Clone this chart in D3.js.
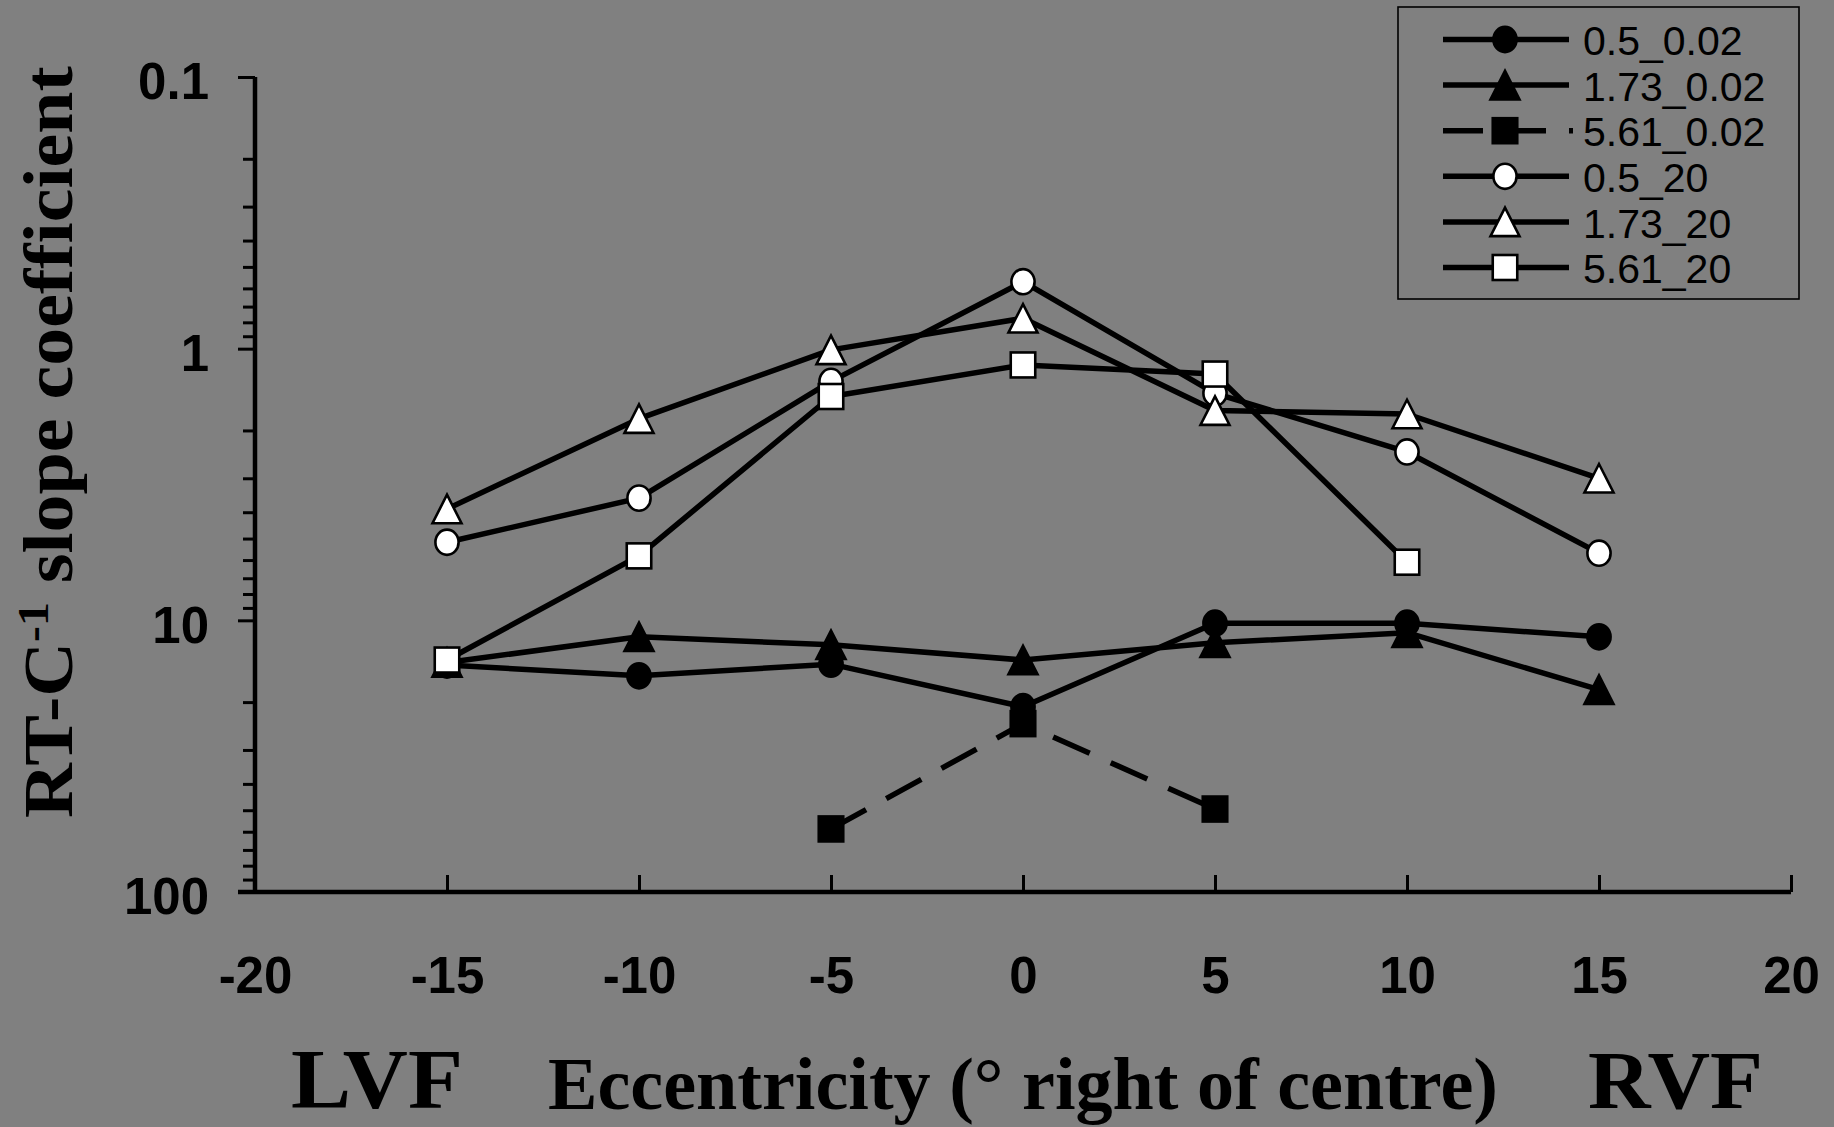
<!DOCTYPE html>
<html>
<head>
<meta charset="utf-8">
<script src="https://cdn.jsdelivr.net/npm/d3@7"></script>
<style>
  html, body { margin: 0; padding: 0; background: #808080; }
  svg { display: block; }
</style>
</head>
<body>
<svg id="chart" width="1834" height="1127"></svg>
<script>
// Eccentricity positions (degrees right of centre)
const eccentricity = [-15, -10, -5, 0, 5, 10, 15];

// Series names (spatial frequency _ contrast condition)
const seriesNames = ["0.5_0.02", "1.73_0.02", "5.61_0.02", "0.5_20", "1.73_20", "5.61_20"];

// RT-C^-1 slope coefficients per series, one per eccentricity (null = no data)
const s_05_002  = [14.6, 16.0, 14.5, 20.8, 10.25, 10.25, 11.5];
const s_173_002 = [14.3, 11.5, 12.3, 14.0, 12.1, 11.1, 18.0];
const s_561_002 = [null, null, 58.6, 24.0, 49.5, null, null];
const s_05_20   = [5.16, 3.55, 1.32, 0.567, 1.46, 2.40, 5.66];
const s_173_20  = [3.89, 1.81, 1.01, 0.773, 1.69, 1.74, 3.00];
const s_561_20  = [14.0, 5.79, 1.50, 1.148, 1.24, 6.11, null];

// Axis ticks and labels
const xTicks = [-20, -15, -10, -5, 0, 5, 10, 15, 20];
const yMajorTicks = [0.1, 1, 10, 100];
const yMajorLabels = ["0.1", "1", "10", "100"];
const yMinorTicks = [0.2,0.3,0.4,0.5,0.6,0.7,0.8,0.9, 2,3,4,5,6,7,8,9, 20,30,40,50,60,70,80,90];

const seriesValues = [s_05_002, s_173_002, s_561_002, s_05_20, s_173_20, s_561_20];
const seriesStyle = [
  { shape: "circle",   fill: "#000", dash: null },
  { shape: "triangle", fill: "#000", dash: null },
  { shape: "square",   fill: "#000", dash: "40,23" },
  { shape: "circle",   fill: "#fff", dash: null },
  { shape: "triangle", fill: "#fff", dash: null },
  { shape: "square",   fill: "#fff", dash: null }
];

const SANS = "'Liberation Sans', Arial, sans-serif";
const SERIF = "'Liberation Serif', 'Times New Roman', serif";

const svg = d3.select("#chart");

const x = d3.scaleLinear().domain([-20, 20]).range([255, 1791]);
const y = d3.scaleLog().domain([0.1, 100]).range([77, 892]);

// ---- Y axis: minor ticks, then major ticks with labels ----
const yAxisX = x(-20);
svg.append("g")
  .attr("transform", `translate(${yAxisX},0)`)
  .call(d3.axisLeft(y).tickValues(yMinorTicks).tickSize(12).tickFormat(""))
  .call(g => g.select(".domain").remove())
  .call(g => g.selectAll(".tick line").attr("stroke", "#000").attr("stroke-width", 3));

svg.append("g")
  .attr("transform", `translate(${yAxisX},0)`)
  .call(d3.axisLeft(y).tickValues(yMajorTicks).tickSize(17).tickSizeOuter(0).tickPadding(29)
        .tickFormat((d, i) => yMajorLabels[i]))
  .call(g => g.select(".domain").attr("stroke", "#000").attr("stroke-width", 4.5)
        .attr("d", `M0,${y(0.1)}V${y(100)}`))
  .call(g => g.selectAll(".tick line").attr("stroke", "#000").attr("stroke-width", 3))
  .call(g => g.selectAll(".tick text")
        .attr("fill", "#000").attr("font-family", SANS).attr("font-weight", "bold")
        .attr("font-size", 51).attr("dy", "0.43em"));

// ---- X axis along the bottom, ticks pointing up ----
svg.append("g")
  .attr("transform", `translate(0,${y(100)})`)
  .call(d3.axisBottom(x).tickValues(xTicks).tickSizeInner(-17).tickSizeOuter(0).tickPadding(65)
        .tickFormat(d3.format("d")))
  .call(g => g.select(".domain").attr("stroke", "#000").attr("stroke-width", 4.5)
        .attr("d", `M${x(-20) - 17},0H${x(20)}`))
  .call(g => g.selectAll(".tick line").attr("stroke", "#000").attr("stroke-width", 3))
  .call(g => g.selectAll(".tick text")
        .attr("fill", "#000").attr("font-family", SANS).attr("font-weight", "bold")
        .attr("font-size", 51).attr("dy", "0.71em")
        .text(d => d < 0 ? "-" + Math.abs(d) : String(d)));

// ---- Marker drawing ----
function drawMarker(sel, shape, fill) {
  if (shape === "circle") {
    sel.append("ellipse").attr("rx", 11.6).attr("ry", 12.6)
      .attr("fill", fill).attr("stroke", "#000").attr("stroke-width", 2.6);
  } else if (shape === "triangle") {
    const w = 29, h = 28.5;
    sel.append("path").attr("d", `M0,${-h/2}L${w/2},${h/2}L${-w/2},${h/2}Z`)
      .attr("fill", fill).attr("stroke", "#000").attr("stroke-width", 2.6).attr("stroke-linejoin", "miter");
  } else {
    const w = 24.5, h = 25;
    sel.append("rect").attr("x", -w/2).attr("y", -h/2).attr("width", w).attr("height", h)
      .attr("fill", fill).attr("stroke", "#000").attr("stroke-width", 2.6);
  }
}

// ---- Series: line then markers, in series order ----
const line = d3.line()
  .defined(d => d.v != null)
  .x(d => x(d.e))
  .y(d => y(d.v));

seriesValues.forEach((vals, i) => {
  const st = seriesStyle[i];
  const pts = eccentricity.map((e, j) => ({ e, v: vals[j] }));
  const g = svg.append("g").attr("class", "series");
  g.append("path")
    .attr("d", line(pts))
    .attr("fill", "none")
    .attr("stroke", "#000")
    .attr("stroke-width", 5.5)
    .attr("stroke-linejoin", "round")
    .attr("stroke-dasharray", st.dash);
  g.selectAll("g.m")
    .data(pts.filter(d => d.v != null))
    .join("g").attr("class", "m")
    .attr("transform", d => `translate(${x(d.e)},${y(d.v)})`)
    .each(function () { drawMarker(d3.select(this), st.shape, st.fill); });
});

// ---- Legend ----
const legend = svg.append("g");
legend.append("rect")
  .attr("x", 1398).attr("y", 7).attr("width", 401).attr("height", 292)
  .attr("fill", "none").attr("stroke", "#000").attr("stroke-width", 1.6);

seriesNames.forEach((name, i) => {
  const st = seriesStyle[i];
  const cy = 39.5 + i * 45.6;
  const row = legend.append("g");
  row.append("line")
    .attr("x1", 1443).attr("x2", st.dash ? 1573 : 1569).attr("y1", cy).attr("y2", cy)
    .attr("stroke", "#000").attr("stroke-width", 5.5)
    .attr("stroke-dasharray", st.dash);
  const m = row.append("g").attr("transform", `translate(1505,${cy})`);
  drawMarker(m, st.shape, st.fill);
  row.append("text")
    .attr("x", 1583).attr("y", cy + 15.7)
    .attr("font-family", SANS).attr("font-size", 41).attr("fill", "#000")
    .text(name);
});

// ---- Titles ----
function fitX(sel, target) {
  const w = sel.node().getComputedTextLength();
  return target / w;
}

// Y axis title, rotated, with superscript -1
const yTitle = svg.append("text")
  .attr("font-family", SERIF).attr("font-weight", "bold").attr("font-size", 70).attr("fill", "#000");
yTitle.append("tspan").text("RT-C");
yTitle.append("tspan").attr("font-size", 44).attr("dy", -24).text("-1");
yTitle.append("tspan").attr("dy", 24).text(" slope coefficient");
const ys = fitX(yTitle, 752);
yTitle.attr("transform", `translate(71.7,818) rotate(-90) scale(${ys},1)`);

// Bottom labels
const bottomLabels = [
  { text: "LVF", x: 291, size: 84, width: 172, base: 1108 },
  { text: "Eccentricity (\u00B0 right of centre)", x: 548, size: 74, width: 950, base: 1109 },
  { text: "RVF", x: 1588, size: 83, width: 175, base: 1108 }
];
bottomLabels.forEach(b => {
  const t = svg.append("text")
    .attr("font-family", SERIF).attr("font-weight", "bold").attr("font-size", b.size)
    .attr("fill", "#000").text(b.text);
  const s = fitX(t, b.width);
  t.attr("transform", `translate(${b.x},${b.base}) scale(${s},1)`);
});
</script>
</body>
</html>
